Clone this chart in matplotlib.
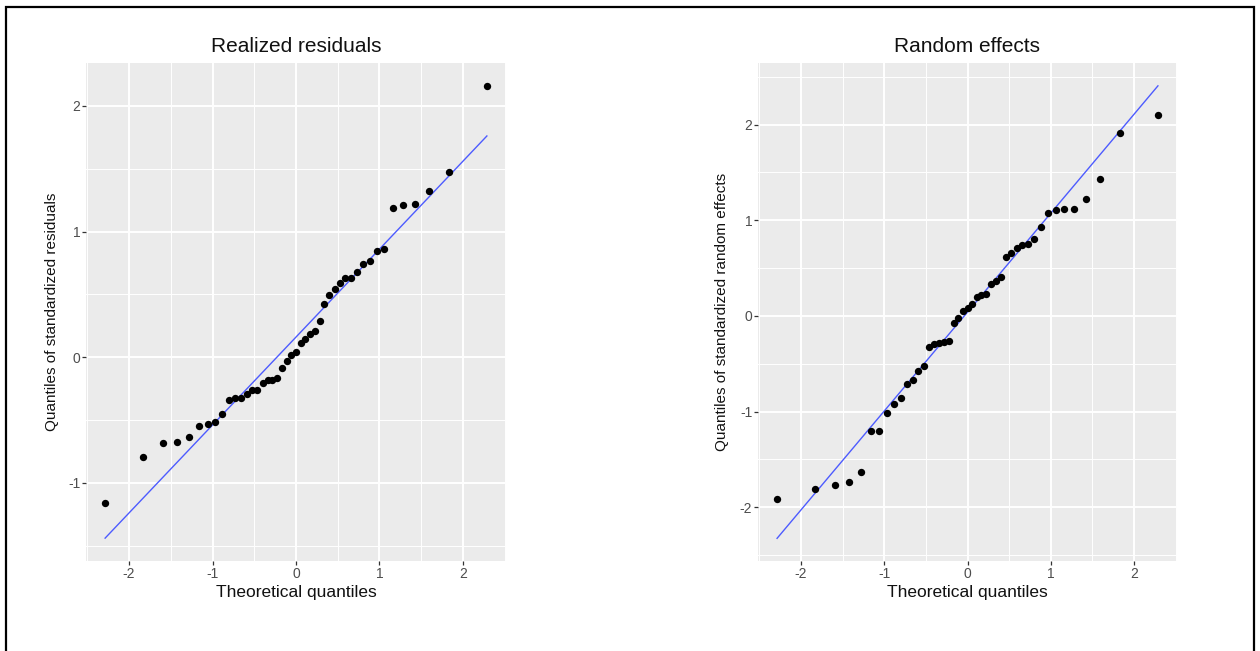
import matplotlib
matplotlib.use("Agg")
import matplotlib.pyplot as plt
from matplotlib.patches import Rectangle
from matplotlib.ticker import MultipleLocator

plt.rcParams['font.family'] = ['Liberation Sans', 'DejaVu Sans']

# Theoretical normal quantiles (n = 45)
theo_q = [-2.287, -1.834, -1.593, -1.420, -1.282, -1.164, -1.060, -0.967, -0.882,
          -0.803, -0.728, -0.657, -0.590, -0.524, -0.462, -0.401, -0.341, -0.282,
          -0.225, -0.168, -0.112, -0.056, 0.000, 0.056, 0.112, 0.168, 0.225, 0.282,
          0.341, 0.401, 0.462, 0.524, 0.590, 0.657, 0.728, 0.803, 0.882, 0.967,
          1.060, 1.164, 1.282, 1.420, 1.593, 1.834, 2.287]

resid_q = [-1.158, -0.794, -0.686, -0.677, -0.635, -0.552, -0.536, -0.517, -0.451,
           -0.339, -0.323, -0.323, -0.296, -0.264, -0.259, -0.203, -0.180, -0.178,
           -0.163, -0.088, -0.029, 0.021, 0.045, 0.109, 0.144, 0.181, 0.208, 0.291,
           0.427, 0.496, 0.544, 0.587, 0.629, 0.630, 0.680, 0.739, 0.765, 0.848,
           0.864, 1.187, 1.210, 1.221, 1.320, 1.472, 2.162]

ranef_q = [-1.918, -1.806, -1.771, -1.740, -1.630, -1.207, -1.207, -1.011, -0.920,
           -0.854, -0.710, -0.665, -0.581, -0.522, -0.325, -0.297, -0.280, -0.276,
           -0.262, -0.070, -0.024, 0.052, 0.085, 0.121, 0.196, 0.220, 0.228, 0.339,
           0.364, 0.406, 0.616, 0.661, 0.707, 0.739, 0.753, 0.805, 0.927, 1.081,
           1.106, 1.113, 1.113, 1.225, 1.435, 1.911, 2.100]

# Reference line endpoints (x, y)
resid_line_x = [-2.287, 2.287]
resid_line_y = [-1.441, 1.761]
ranef_line_x = [-2.287, 2.287]
ranef_line_y = [-2.326, 2.406]

titles = ["Realized residuals", "Random effects"]
ylabels = ["Quantiles of standardized residuals", "Quantiles of standardized random effects"]
xlabel = "Theoretical quantiles"

W, H = 1260, 651
fig = plt.figure(figsize=(W / 100, H / 100), dpi=100)

def px_box(x0, y0, x1, y1):
    return [x0 / W, 1 - y1 / H, (x1 - x0) / W, (y1 - y0) / H]

panels = [
    dict(box=(86, 63, 506, 561), y=resid_q, lx=resid_line_x, ly=resid_line_y,
         ylim=(-1.623, 2.342), yticks=[-1, 0, 1, 2], cx=296, ylab_x=52),
    dict(box=(758, 63, 1177, 561), y=ranef_q, lx=ranef_line_x, ly=ranef_line_y,
         ylim=(-2.563, 2.645), yticks=[-2, -1, 0, 1, 2], cx=967, ylab_x=722),
]

for i, p in enumerate(panels):
    ax = fig.add_axes(px_box(*p['box']))
    ax.set_facecolor('#EBEBEB')
    for s in ax.spines.values():
        s.set_visible(False)
    ax.set_xlim(-2.516, 2.516)
    ax.set_ylim(*p['ylim'])
    ax.set_xticks([-2, -1, 0, 1, 2])
    ax.set_yticks(p['yticks'])
    ax.xaxis.set_minor_locator(MultipleLocator(0.5))
    ax.yaxis.set_minor_locator(MultipleLocator(0.5))
    ax.grid(which='major', color='white', linewidth=1.4)
    ax.grid(which='minor', color='white', linewidth=0.7)
    ax.set_axisbelow(True)
    ax.tick_params(which='major', length=2.7, width=0.9, color='#333333',
                   labelcolor='#4D4D4D', labelsize=10, pad=1.5)
    ax.tick_params(which='minor', length=0)
    ax.set_xticklabels(['-2', '-1', '0', '1', '2'])
    ax.set_yticklabels([str(t) for t in p['yticks']])
    ax.plot(p['lx'], p['ly'], color='#4D5BFF', linewidth=1.0, zorder=2)
    ax.scatter(theo_q, p['y'], s=28, color='black', zorder=3, linewidths=0)
    fig.text(p['cx'] / W, 1 - 46 / H, titles[i], ha='center', va='center',
             fontsize=15, color='#111111')
    fig.text(p['cx'] / W, 1 - 593 / H, xlabel, ha='center', va='center',
             fontsize=12.5, color='#111111')
    fig.text(p['ylab_x'] / W, 1 - 312 / H, ylabels[i], ha='center', va='center',
             rotation=90, fontsize=11, color='#111111')

# Outer border frame
fig.patches.append(Rectangle((6 / W, -0.05), (1254 - 6) / W, 1.05 - 7 / H,
                             transform=fig.transFigure, fill=False,
                             edgecolor='black', linewidth=1.6))

fig.savefig('out.png', dpi=100, facecolor='white')
